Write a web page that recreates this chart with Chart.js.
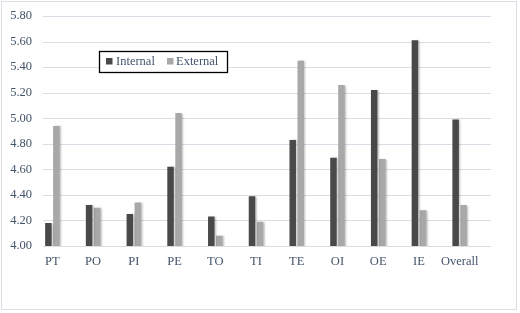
<!DOCTYPE html>
<html>
<head>
<meta charset="utf-8">
<script src="https://cdn.jsdelivr.net/npm/chart.js@4"></script>
<style>
html,body{margin:0;padding:0;background:#fff;}
#wrap{position:relative;width:520px;height:313px;}
</style>
</head>
<body>
<div id="wrap"><canvas id="c" width="520" height="313"></canvas></div>
<script>
const categories = ["PT","PO","PI","PE","TO","TI","TE","OI","OE","IE","Overall"];
const internalValues = [4.18,4.32,4.25,4.62,4.23,4.39,4.83,4.69,5.22,5.61,4.99];
const externalValues = [4.94,4.30,4.34,5.04,4.08,4.19,5.45,5.26,4.68,4.28,4.32];
const seriesNames = ["Internal","External"];
const yMin = 4.0, yMax = 5.8, yStep = 0.2;

const textColor = '#44546a';
const gridColor = '#d9dee6';
const FONT = 'Liberation Serif, "Times New Roman", serif';

const extras = {
  id: 'extras',
  beforeDatasetsDraw(chart) {
    const ctx = chart.ctx, y = chart.scales.y, a = chart.chartArea;
    ctx.save();
    ctx.strokeStyle = gridColor;
    ctx.lineWidth = 1;
    y.ticks.forEach(t => {
      const py = Math.round(y.getPixelForValue(t.value)) + 0.5;
      ctx.beginPath();
      ctx.moveTo(a.left + 11, py);
      ctx.lineTo(a.right + 11, py);
      ctx.stroke();
    });
    ctx.restore();
    ctx.save();
    ctx.shadowColor = 'rgba(0,0,0,0.25)';
    ctx.shadowBlur = 2;
    ctx.shadowOffsetX = 1.5;
    ctx.shadowOffsetY = 0.5;
  },
  afterDatasetsDraw(chart) {
    chart.ctx.restore();
  },
  afterDraw(chart) {
    const ctx = chart.ctx;
    ctx.save();
    // outer border
    ctx.strokeStyle = '#d9dde4';
    ctx.lineWidth = 1;
    ctx.strokeRect(1.5, 1.5, 515, 308);
    // legend box
    ctx.fillStyle = '#fff';
    ctx.fillRect(99.5, 51.5, 128, 21);
    ctx.strokeStyle = '#000';
    ctx.lineWidth = 1.3;
    ctx.strokeRect(99.5, 51.5, 128, 21);
    const ds = chart.data.datasets;
    const items = [{sx:106, tx:116}, {sx:167, tx:176}];
    ctx.font = '12.5px ' + FONT;
    ctx.textBaseline = 'middle';
    ctx.textAlign = 'left';
    items.forEach((it, i) => {
      ctx.fillStyle = ds[i].backgroundColor;
      ctx.fillRect(it.sx, 58, 6.5, 6.5);
      ctx.fillStyle = textColor;
      ctx.fillText(ds[i].label, it.tx, 62);
    });
    ctx.restore();
  }
};

new Chart(document.getElementById('c'), {
  type: 'bar',
  data: {
    labels: categories,
    datasets: [
      {label: seriesNames[0], data: internalValues, backgroundColor: '#494949', borderWidth: 0},
      {label: seriesNames[1], data: externalValues, backgroundColor: '#a8a8a8', borderWidth: 0}
    ]
  },
  options: {
    responsive: false,
    animation: false,
    layout: {padding: {left: 0, right: 40, top: 16, bottom: 44}},
    plugins: {legend: {display: false}, tooltip: {enabled: false}},
    datasets: {bar: {categoryPercentage: 0.393, barPercentage: 0.81}},
    scales: {
      x: {
        grid: {display: false, drawTicks: false},
        border: {display: false},
        ticks: {color: textColor, font: {family: FONT, size: 12.5}, padding: 8, maxRotation: 0, autoSkip: false},
        afterFit(s) { s.height = 23; }
      },
      y: {
        min: yMin, max: yMax,
        grid: {display: false, drawTicks: false},
        border: {display: false},
        ticks: {stepSize: yStep, color: textColor, font: {family: FONT, size: 12.5}, padding: 0,
          callback: v => Number(v).toFixed(2)},
        afterFit(s) { s.width = 32; }
      }
    }
  },
  plugins: [extras]
});
</script>
</body>
</html>
